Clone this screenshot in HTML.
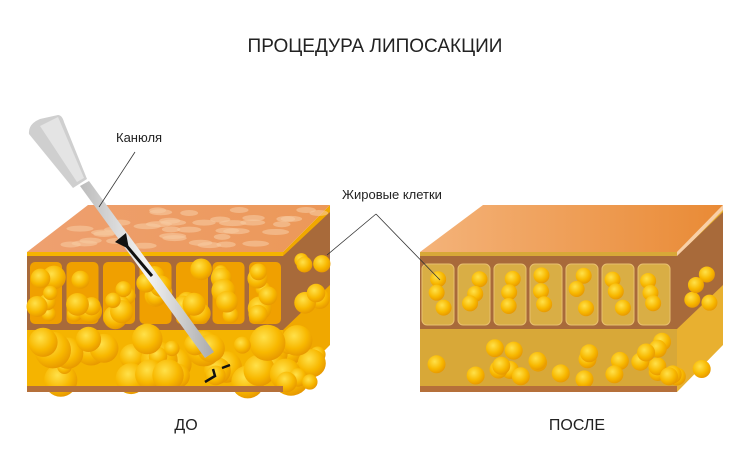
<!DOCTYPE html>
<html><head><meta charset="utf-8"><style>
body{margin:0;background:#fff;width:750px;height:462px;overflow:hidden}
svg{display:block}
text{font-family:"Liberation Sans",sans-serif;fill:#222}
</style></head><body>
<svg id="s" width="750" height="462" viewBox="0 0 750 462">
<defs>
<radialGradient id="fat" cx="0.4" cy="0.35" r="0.7"><stop offset="0" stop-color="#ffe14a"/><stop offset="0.6" stop-color="#f8b800"/><stop offset="1" stop-color="#e59400"/></radialGradient>
<linearGradient id="skin" x1="0" y1="0" x2="1" y2="0"><stop offset="0" stop-color="#eea070"/><stop offset="1" stop-color="#ec9858"/></linearGradient>
<linearGradient id="skin2" x1="0" y1="0" x2="1" y2="0"><stop offset="0" stop-color="#f4b37a"/><stop offset="1" stop-color="#e98a35"/></linearGradient>
<linearGradient id="tube" x1="0" y1="0" x2="1" y2="0"><stop offset="0" stop-color="#bbb"/><stop offset="0.5" stop-color="#f4f4f4"/><stop offset="1" stop-color="#aaa"/></linearGradient>
</defs>
<text x="375" y="52" text-anchor="middle" font-size="19" fill="#333">ПРОЦЕДУРА ЛИПОСАКЦИИ</text>
<text x="116" y="142" font-size="13">Канюля</text>
<text x="342" y="199" font-size="13">Жировые клетки</text>
<text x="186" y="430" text-anchor="middle" font-size="16">ДО</text>
<text x="577" y="430" text-anchor="middle" font-size="16">ПОСЛЕ</text>
<g id="L"></g><g id="R"></g>
<line x1="135" y1="152" x2="99" y2="207" stroke="#333" stroke-width="0.8"/>
<line x1="376" y1="214" x2="327" y2="255" stroke="#333" stroke-width="0.8"/>
<line x1="376" y1="214" x2="440" y2="280" stroke="#333" stroke-width="0.8"/>
</svg>
<script>
var NS="http://www.w3.org/2000/svg";
function el(p,t,a){var e=document.createElementNS(NS,t);for(var k in a)e.setAttribute(k,a[k]);p.appendChild(e);return e;}
var seed=7;function rnd(){seed=(seed*16807)%2147483647;return (seed-1)/2147483646;}
var L=document.getElementById('L'),R=document.getElementById('R');
el(L,'polygon',{points:"283,252 330,205 330,345 283,392",fill:"#f0a800"});
el(L,'polygon',{points:"27,252 88,205 330,205 283,252",fill:"url(#skin)"});
for(var i=0;i<40;i++){var y=210+rnd()*38;var x=40+(y-205)*-1.3+70+rnd()*220;el(L,'ellipse',{cx:x,cy:y,rx:8+rnd()*6,ry:3,fill:"#f7c9a0",opacity:0.6});}
el(L,'rect',{x:27,y:252,width:256,height:140,fill:"#f5b400"});
el(L,'rect',{x:27,y:256,width:256,height:74,fill:"#a86a3a"});
el(L,'polygon',{points:"283,256 330,212 330,285 283,330",fill:"#a86a3a"});
for(var c=0;c<7;c++){var cx=30+c*36.5;el(L,'rect',{x:cx,y:262,width:32,height:62,rx:5,fill:"#f0a000"});
 for(var k=0;k<6;k++)el(L,'circle',{cx:cx+6+rnd()*20,cy:268+rnd()*50,r:7+rnd()*5,fill:"url(#fat)"});}
for(var k=0;k<6;k++)el(L,'circle',{cx:292+rnd()*30,cy:260+rnd()*50,r:7+rnd()*4,fill:"url(#fat)"});
for(var k=0;k<45;k++)el(L,'circle',{cx:30+rnd()*295,cy:338+rnd()*46,r:7+rnd()*12,fill:"url(#fat)"});
el(L,'rect',{x:27,y:386,width:256,height:6,fill:"#b5703a"});
el(L,'polygon',{points:"80,186 89,181 214,352 205,358",fill:"url(#tube)"});
el(L,'path',{d:"M29,134 Q28,124 40,119 L58,115 Q62,115 64,122 L87,179 L73,188 Z",fill:"#cfcfcf"});
el(L,'path',{d:"M40,126 L58,117 L84,178 L77,182 Z",fill:"#e4e4e4"});
el(L,'polygon',{points:"115,242 126,233 129,249",fill:"#111"});
el(L,'line',{x1:125,y1:244,x2:152,y2:276,stroke:"#111","stroke-width":3});
el(L,'path',{d:"M205,382 l10,-6 l-2,-7 M222,368 l8,-3",stroke:"#111","stroke-width":2.5,fill:"none"});
el(R,'polygon',{points:"677,252 723,205 723,345 677,392",fill:"#e8b030"});
el(R,'polygon',{points:"420,252 483,205 723,205 677,252",fill:"url(#skin2)"});
el(R,'polygon',{points:"677,252 723,205 723,210 677,257",fill:"#f8d0a8"});
el(R,'rect',{x:420,y:252,width:257,height:140,fill:"#d8a838"});
el(R,'rect',{x:420,y:256,width:257,height:73,fill:"#a86a3a"});
el(R,'polygon',{points:"677,256 723,212 723,285 677,329",fill:"#a86a3a"});
for(var c=0;c<7;c++){var cx=422+c*36;el(R,'rect',{x:cx,y:264,width:32,height:61,rx:5,fill:"#d9ae45",stroke:"#e8c070"});
 for(var k=0;k<3;k++)el(R,'circle',{cx:cx+10+rnd()*12,cy:275+k*14+rnd()*6,r:8,fill:"url(#fat)"});}
for(var k=0;k<4;k++)el(R,'circle',{cx:688+rnd()*25,cy:262+rnd()*50,r:8,fill:"url(#fat)"});
for(var k=0;k<26;k++)el(R,'circle',{cx:430+rnd()*280,cy:340+rnd()*42,r:9,fill:"url(#fat)"});
el(R,'rect',{x:420,y:386,width:257,height:6,fill:"#b5703a"});
</script>
</body></html>
